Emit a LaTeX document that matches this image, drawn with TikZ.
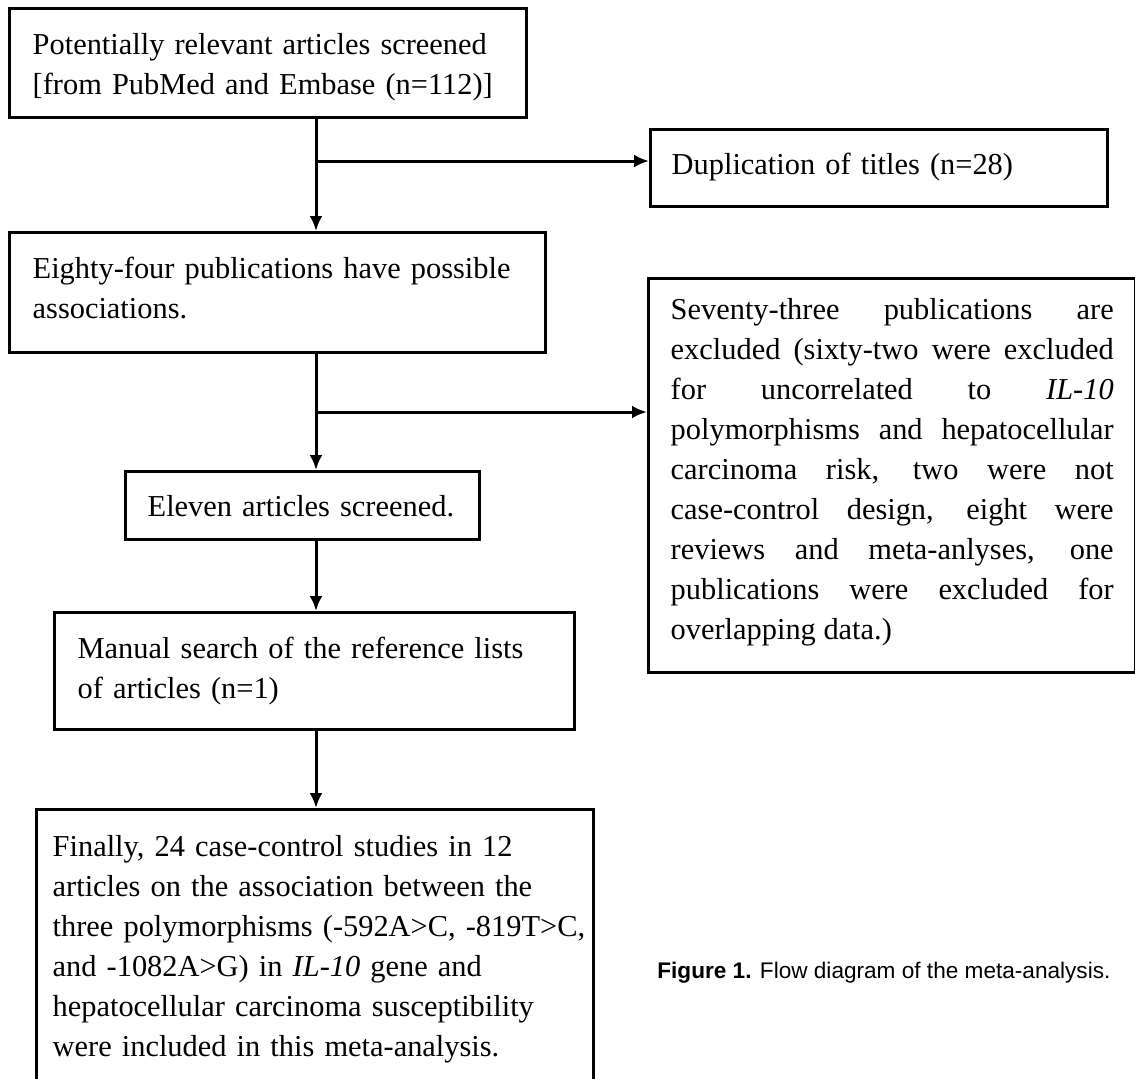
\documentclass[tikz,border=0pt]{standalone}
\usepackage{fontspec}
\setmainfont{Liberation Serif}
\newfontfamily\capfont{Liberation Sans}
\usepackage{tikz}
\usetikzlibrary{arrows.meta, positioning, calc}

\newcommand{\boxfont}{\fontsize{15.2}{20}\selectfont}

\begin{document}
\begin{tikzpicture}[x=0.5pt, y=-0.5pt,
    flowbox/.style={draw, line width=1.7pt, anchor=north west, align=left,
        inner ysep=0pt, font=\boxfont},
    flow/.style={->, line width=1.5pt, >={Latex[length=7.5pt, width=6.5pt]}}]
\useasboundingbox (0,0) rectangle (1135,1078);

% Main column
\node[flowbox, inner xsep=11.5pt, text width=235.5pt, text height=23pt, text depth=31.5pt] (search) at (8,7)
    {Potentially relevant articles screened\\ {[}from PubMed and Embase (n=112)]};
\node[flowbox, inner xsep=11.5pt, text width=245pt, text height=23pt, text depth=37pt] (pubs) at (8,231)
    {Eighty-four publications have possible\\ associations.};
\node[flowbox, inner xsep=11pt, text width=155pt, text height=22.5pt, text depth=11.5pt] (eleven) at (124,470)
    {Eleven articles screened.};
\node[flowbox, inner xsep=11.5pt, text width=237pt, text height=23pt, text depth=35.5pt] (manual) at (53,611)
    {Manual search of the reference lists\\ of articles (n=1)};
\node[flowbox, inner xsep=8pt, text width=262.5pt, text height=23.5pt, text depth=112.5pt] (final) at (35,808)
    {Finally, 24 case-control studies in 12\\
     articles on the association between the\\
     \mbox{three polymorphisms (-592A>C, -819T>C,}\\
     and -1082A>G) in \textit{IL-10} gene and\\
     hepatocellular carcinoma susceptibility\\
     were included in this meta-analysis.};

% Exclusions
\node[flowbox, inner xsep=10.5pt, text width=207.5pt, text height=22.5pt, text depth=16pt] (dup) at (649,128)
    {Duplication of titles (n=28)};
\node[flowbox, align=justify, inner xsep=11pt, text width=221.5pt, text height=20.5pt, text depth=176.5pt] (excl) at (647,277)
    {Seventy-three publications are\linebreak
     excluded (sixty-two were excluded\linebreak
     for uncorrelated to \textit{IL-10}\linebreak
     polymorphisms and hepatocellular\linebreak
     carcinoma risk, two were not\linebreak
     case-control design, eight were\linebreak
     reviews and meta-anlyses, one\linebreak
     publications were excluded for\linebreak
     overlapping data.)};

% Connectors
\coordinate (spine) at (316,0);
\coordinate (fork1) at (316,161);
\coordinate (fork2) at (316,412);
\draw[flow] (search.south -| spine) -- (pubs.north -| spine);
\draw[flow] (fork1) -- (fork1 -| dup.west);
\draw[flow] (pubs.south -| spine) -- (eleven.north -| spine);
\draw[flow] (fork2) -- (fork2 -| excl.west);
\draw[flow] (eleven.south -| spine) -- (manual.north -| spine);
\draw[flow] (manual.south -| spine) -- (final.north -| spine);

% Caption
\node[anchor=base west, inner sep=0pt, font=\capfont\fontsize{11.3}{14}\selectfont] (caption) at (657,978)
    {\textbf{Figure 1.} Flow diagram of the meta-analysis.};
\end{tikzpicture}
\end{document}
